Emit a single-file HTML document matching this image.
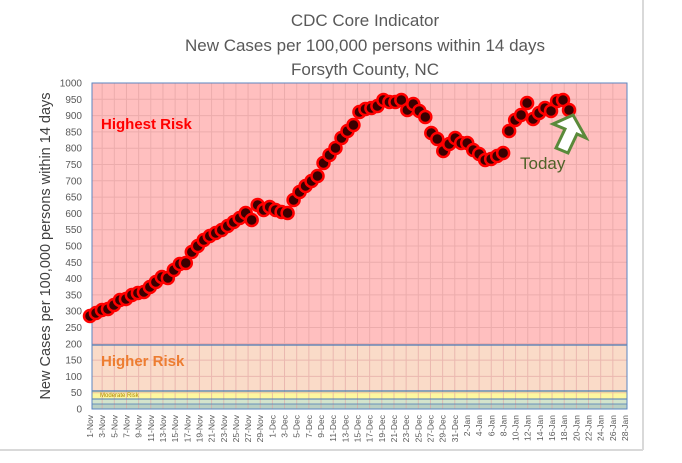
<!DOCTYPE html><html><head><style>body{margin:0;background:#fff}svg{display:block}</style></head><body>
<svg width="682" height="463" xmlns="http://www.w3.org/2000/svg" font-family="Liberation Sans, sans-serif">
<line x1="643" y1="0" x2="643" y2="450" stroke="#d9d9d9" stroke-width="2"/>
<line x1="0" y1="450" x2="643" y2="450" stroke="#d9d9d9" stroke-width="2"/>
<g fill="#595959" font-size="17" text-anchor="middle">
<text x="365" y="26">CDC Core Indicator</text>
<text x="365" y="51">New Cases per 100,000 persons within 14 days</text>
<text x="365" y="75">Forsyth County, NC</text></g>
<text transform="translate(50,246) rotate(-90)" text-anchor="middle" font-size="14.5" fill="#404040">New Cases per 100,000 persons within 14 days</text>
<rect x="92" y="83" width="535" height="262" fill="#ffbfbf"/>
<rect x="92" y="345" width="535" height="46" fill="#fadbc8"/>
<rect x="92" y="391" width="535" height="8" fill="#fdf7a0"/>
<rect x="92" y="399" width="535" height="5" fill="#d3e4cc"/>
<rect x="92" y="404" width="535" height="5" fill="#b9d0c4"/>
<g id="grid" stroke="#e0a0a0" stroke-width="1" opacity="0.6"></g>
<line x1="92" y1="345" x2="627" y2="345" stroke="#4a7ab5" stroke-width="1.2"/>
<line x1="92" y1="391" x2="627" y2="391" stroke="#4a7ab5" stroke-width="1.2"/>
<line x1="92" y1="399" x2="627" y2="399" stroke="#4a7ab5" stroke-width="1"/>
<line x1="92" y1="404" x2="627" y2="404" stroke="#4a7ab5" stroke-width="0.8"/>
<rect x="92" y="83" width="535" height="326" fill="none" stroke="#5b86c0" stroke-width="1"/>
<g id="yl" font-size="10" fill="#595959" text-anchor="end"></g>
<g id="xl" font-size="8.5" fill="#595959" text-anchor="end"></g>
<text x="101" y="129" font-size="15" font-weight="bold" fill="#ff0000">Highest Risk</text>
<text x="101" y="366" font-size="15" font-weight="bold" fill="#ed7d31">Higher Risk</text>
<text x="100" y="397" font-size="6" fill="#b08a00">Moderate Risk</text>
<g id="pts" fill="#3a0000" stroke="#ff0000" stroke-width="2.5"></g>
<polygon points="573,115 586,138 577,134 568,153 556,148 565,129 553,124" fill="#fff" stroke="#5a8a3a" stroke-width="3" stroke-linejoin="miter"/>
<text x="520" y="169" font-size="17" fill="#4f6228">Today</text>
</svg>
<script>
var ns="http://www.w3.org/2000/svg";
function el(p,t,a,txt){var e=document.createElementNS(ns,t);for(var k in a)e.setAttribute(k,a[k]);if(txt)e.textContent=txt;document.getElementById(p).appendChild(e);}
for(var v=50;v<1000;v+=50){var y=409-v*0.326;el("grid","line",{x1:92,x2:627,y1:y,y2:y});}
var step=535/88;
for(var i=2;i<88;i+=2){var x=90+i*step;el("grid","line",{x1:x,x2:x,y1:83,y2:409});}
for(var v=0;v<=1000;v+=50){el("yl","text",{x:82,y:409-v*0.326+3.5},""+v);}
var days=[];for(var d=1;d<=30;d+=2)days.push(d+"-Nov");for(var d=1;d<=31;d+=2)days.push(d+"-Dec");for(var d=2;d<=28;d+=2)days.push(d+"-Jan");
days.forEach(function(s,k){var x=90+2*k*step+3;el("xl","text",{transform:"translate("+x+",415) rotate(-90)"},s);});
var ys=[316,313,310,309,305,300,299,295,293,292,287,282,277,278,270,264,263,252,246,240,236,233,230,226,222,218,213,220,205,210,207,210,212,213,200,192,186,181,176,163,155,148,138,131,125,112,109,108,106,100,102,102,100,110,104,111,117,133,139,151,144,138,143,143,150,154,160,159,156,153,131,120,115,103,119,113,108,111,101,100,110];
var s2=479/80;
ys.forEach(function(y,i){el("pts","circle",{cx:90+i*s2,cy:y,r:6});});
</script>
</body></html>
